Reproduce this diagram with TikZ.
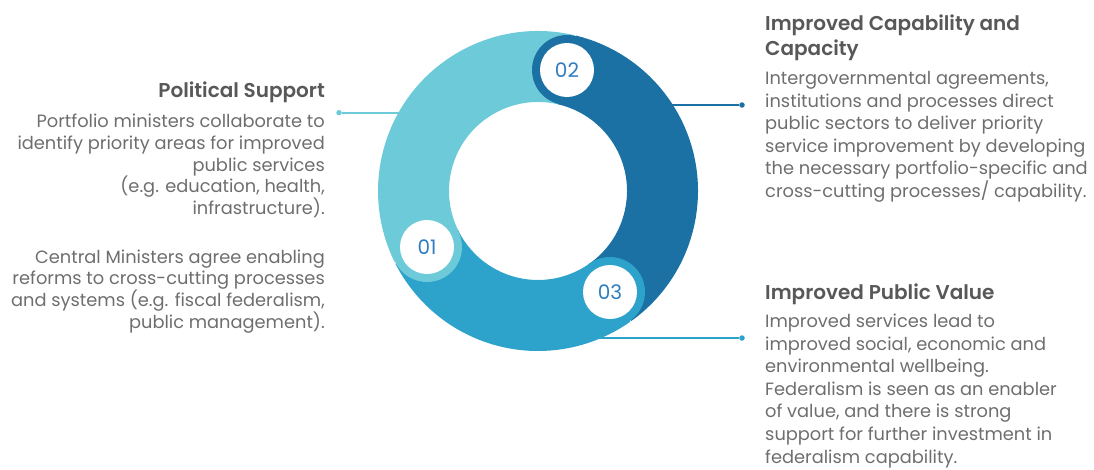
\documentclass[tikz,border=0pt]{standalone}
\usepackage{fontspec}
\setmainfont{Poppins}
\newfontfamily\titlefont{Poppins SemiBold}
\definecolor{lightT}{HTML}{6DCAD8}
\definecolor{darkB}{HTML}{1B71A4}
\definecolor{midB}{HTML}{2DA2CB}
\definecolor{numB}{HTML}{2E7DC1}
\definecolor{txt}{HTML}{6E6E6E}
\definecolor{ttl}{HTML}{585858}
\begin{document}
\begin{tikzpicture}[x=1pt,y=1pt,
  body/.style={font=\fontsize{17.8}{21.75}\selectfont, text=txt, inner sep=0},
  bodyR/.style={font=\fontsize{17.8}{22.6}\selectfont, text=txt, inner sep=0},
  ttlstyle/.style={font=\titlefont\fontsize{20}{25}\selectfont, text=ttl, inner sep=0},
  dotnode/.style={circle, fill=#1, inner sep=0, minimum size=5.5pt},
  conn/.style={draw=#1, line width=1.6pt},
  seg/.style={line width=71pt, draw=#1},
  badge/.style={circle, fill=white, inner sep=0, minimum size=54pt, text=numB, font=\fontsize{20}{20}\selectfont},
  halo/.style={circle, fill=#1, inner sep=0, minimum size=70pt}
]
\useasboundingbox (0,0) rectangle (1094,-469);
\coordinate (C) at (538,-191);
% connectors (behind the ring)
\node[dotnode=lightT] (d1) at (339,-112.7) {};
\coordinate (e1) at (430,-112.7);
\node[dotnode=darkB] (d2) at (742,-105) {};
\coordinate (e2) at (650,-105);
\node[dotnode=midB] (d3) at (742,-338) {};
\coordinate (e3) at (585,-338);
\draw[conn=lightT] (d1) -- (e1);
\draw[conn=darkB] (e2) -- (d2);
\draw[conn=midB] (e3) -- (d3);
% ring segments
\draw[seg=lightT] (C) ++(76.5:124.5) arc[start angle=76.5, end angle=206.8, radius=124.5];
\draw[seg=darkB] (C) ++(-54.5:124.5) arc[start angle=-54.5, end angle=76.5, radius=124.5];
\draw[seg=midB] (C) ++(-153.2:124.5) arc[start angle=-153.2, end angle=-54.5, radius=124.5];
% badges
\node[halo=darkB] (h2) at (567,-70) {};
\node[halo=midB] (h3) at (610,-292) {};
\node[halo=lightT] (h1) at (427,-247) {};
\node[badge] (n2) at (567,-70) {02};
\node[badge] (n3) at (610,-292) {03};
\node[badge] (n1) at (427,-247) {01};
% left text (base anchor = last line's baseline)
\node[ttlstyle, anchor=base east] (pst) at (325,-97) {Political Support};
\node[body, anchor=base east, align=right] (ps1) at (325,-214.5) {Portfolio ministers collaborate to\\identify priority areas for improved\\public services\\(e.g. education, health,\\infrastructure).};
\node[body, anchor=base east, align=right] (ps2) at (325,-328.3) {Central Ministers agree enabling\\reforms to cross-cutting processes\\and systems (e.g. fiscal federalism,\\public management).};
% right top
\node[ttlstyle, anchor=base west, align=left] (cct) at (765,-55) {Improved Capability and\\Capacity};
\node[bodyR, anchor=base west, align=left] (ccb) at (765,-197.5) {Intergovernmental agreements,\\institutions and processes direct\\public sectors to deliver priority\\service improvement by developing\\the necessary portfolio-specific and\\cross-cutting processes/ capability.};
% right bottom
\node[ttlstyle, anchor=base west] (pvt) at (765,-299) {Improved Public Value};
\node[bodyR, anchor=base west, align=left] (pvb) at (765,-463.1) {Improved services lead to\\improved social, economic and\\environmental wellbeing.\\Federalism is seen as an enabler\\of value, and there is strong\\support for further investment in\\federalism capability.};
\end{tikzpicture}
\end{document}
